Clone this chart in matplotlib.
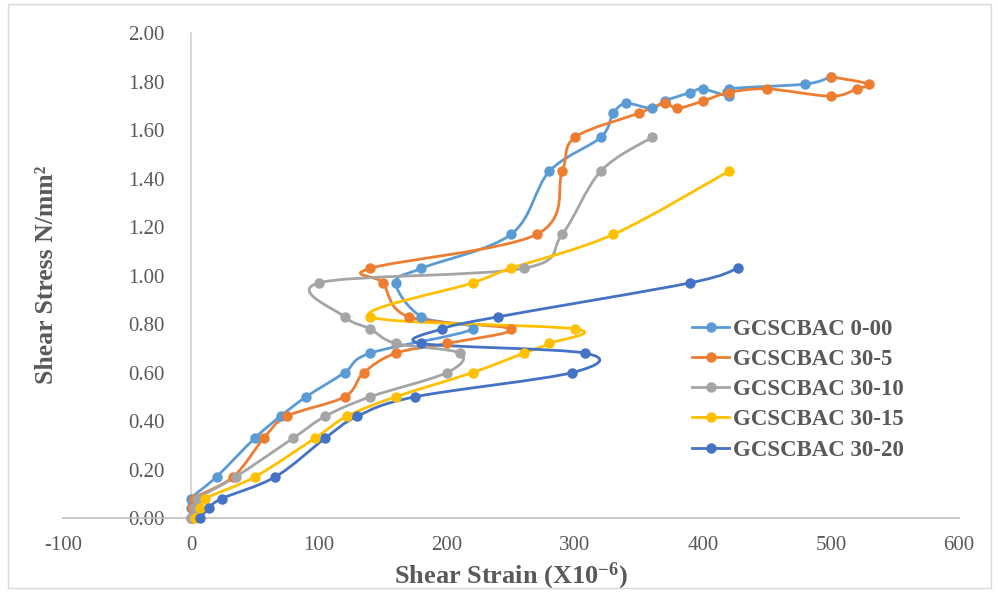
import numpy as np
import matplotlib
matplotlib.use("Agg")
import matplotlib.pyplot as plt
from matplotlib.path import Path
from matplotlib.patches import PathPatch, Rectangle
from matplotlib.lines import Line2D

plt.rcParams['font.family'] = ['Liberation Serif', 'DejaVu Serif']
plt.rcParams['mathtext.fontset'] = 'custom'
plt.rcParams['mathtext.rm'] = 'Liberation Serif'
plt.rcParams['mathtext.bf'] = 'Liberation Serif:bold'
plt.rcParams['axes.unicode_minus'] = False

# shear strain (x10^-6) and shear stress (N/mm2) for each mix
labels = ['GCSCBAC 0-00', 'GCSCBAC 30-5', 'GCSCBAC 30-10', 'GCSCBAC 30-15', 'GCSCBAC 30-20']
colors = ['#5B9BD5', '#ED7D31', '#A5A5A5', '#FFC000', '#4472C4']

strain_0_00 = [0, 0, 0, 20, 50, 70, 90, 120, 140, 220, 180, 160, 180, 250, 280, 320,
               330, 340, 360, 370, 390, 400, 420, 420, 480, 500]
stress_0_00 = [0, 0.04, 0.08, 0.17, 0.33, 0.42, 0.50, 0.60, 0.68, 0.78, 0.83, 0.97, 1.03, 1.17, 1.43, 1.57,
               1.67, 1.71, 1.69, 1.72, 1.755, 1.77, 1.74, 1.77, 1.79, 1.82]

strain_30_5 = [0, 1, 2, 33, 57, 75, 120, 135, 160, 200, 250, 170, 150, 140, 270, 290, 300,
               350, 370, 380, 400, 420, 450, 500, 520, 530, 500]
stress_30_5 = [0, 0.04, 0.08, 0.17, 0.33, 0.42, 0.50, 0.60, 0.68, 0.72, 0.78, 0.83, 0.97, 1.03, 1.17, 1.43, 1.57,
               1.67, 1.71, 1.69, 1.72, 1.755, 1.77, 1.74, 1.77, 1.79, 1.82]

strain_30_10 = [0, 2, 5, 35, 80, 105, 140, 200, 210, 160, 140, 120, 100, 260, 290, 320, 360]
stress_30_10 = [0, 0.04, 0.08, 0.17, 0.33, 0.42, 0.50, 0.60, 0.68, 0.72, 0.78, 0.83, 0.97, 1.03, 1.17, 1.43, 1.57]

strain_30_15 = [3, 7, 11, 50, 97, 122, 160, 220, 260, 280, 300, 140, 220, 250, 330, 420]
stress_30_15 = [0, 0.04, 0.08, 0.17, 0.33, 0.42, 0.50, 0.60, 0.68, 0.72, 0.78, 0.83, 0.97, 1.03, 1.17, 1.43]

strain_30_20 = [7, 14, 24, 66, 105, 130, 175, 298, 308, 180, 196, 240, 390, 427]
stress_30_20 = [0, 0.04, 0.08, 0.17, 0.33, 0.42, 0.50, 0.60, 0.68, 0.72, 0.78, 0.83, 0.97, 1.03]

series = [(strain_0_00, stress_0_00), (strain_30_5, stress_30_5), (strain_30_10, stress_30_10),
          (strain_30_15, stress_30_15), (strain_30_20, stress_30_20)]


def smooth_path(x, y):
    # cubic bezier through every point (catmull-rom style tangents)
    p = np.column_stack([x, y]).astype(float)
    n = len(p)
    verts = [p[0]]
    codes = [Path.MOVETO]
    for i in range(n - 1):
        prev = p[i - 1] if i > 0 else p[i]
        nxt = p[i + 2] if i + 2 < n else p[i + 1]
        c1 = p[i] + (p[i + 1] - prev) / 6.0
        c2 = p[i + 1] - (nxt - p[i]) / 6.0
        verts += [c1, c2, p[i + 1]]
        codes += [Path.CURVE4] * 3
    return Path(verts, codes)


fig = plt.figure(figsize=(9.98, 5.92), dpi=100)
ax = fig.add_axes([0.0631, 0.125, 0.8978, 0.819])

for (x, y), c, lab in zip(series, colors, labels):
    ax.add_patch(PathPatch(smooth_path(x, y), facecolor='none', edgecolor=c, lw=2.0,
                           capstyle='round', joinstyle='round', zorder=2))
    ax.plot(x, y, ls='none', marker='o', ms=6.5, color=c, zorder=3, clip_on=False)

ax.set_xlim(-100, 600)
ax.set_ylim(0, 2.0)
ax.set_xticks(np.arange(-100, 601, 100))
ax.set_yticks(np.arange(0, 2.01, 0.2))
ax.set_yticklabels([f'{v:.2f}' for v in np.arange(0, 2.01, 0.2)])

for s in ['top', 'right']:
    ax.spines[s].set_visible(False)
ax.spines['left'].set_position(('data', 0))
ax.spines['left'].set_color('#D0D0D0')
ax.spines['bottom'].set_color('#BFBFBF')
ax.spines['left'].set_linewidth(1.2)
ax.spines['bottom'].set_linewidth(1.2)
ax.spines['left'].set_zorder(1)
ax.tick_params(axis='both', length=0, labelsize=15, labelcolor='#595959')
ax.tick_params(axis='y', pad=19)
ax.tick_params(axis='x', pad=13)

ax.set_xlabel(r'Shear Strain (X10$\mathbf{^{-6}}$)', fontsize=19, fontweight='bold',
              color='#595959', labelpad=4)
fig.text(0.047, 0.535, 'Shear Stress N/mm\u00b2', rotation=90, fontsize=18.5, fontweight='bold',
         color='#595959', ha='center', va='center')

handles = [Line2D([], [], color=c, lw=2.0, marker='o', ms=6.5) for c in colors]
leg = ax.legend(handles, labels, loc='upper left', bbox_to_anchor=(0.692, 0.43),
                frameon=False, prop={'size': 16.5, 'weight': 'bold'}, labelcolor='#595959',
                handlelength=1.6, handletextpad=0.2, labelspacing=0.4, borderaxespad=0)

# chart area border
fig.patches.append(Rectangle((0.008, 0.006), 0.985, 0.988, transform=fig.transFigure,
                             fill=False, edgecolor='#D9D9D9', lw=1.0))

fig.savefig('out.png', dpi=100)
